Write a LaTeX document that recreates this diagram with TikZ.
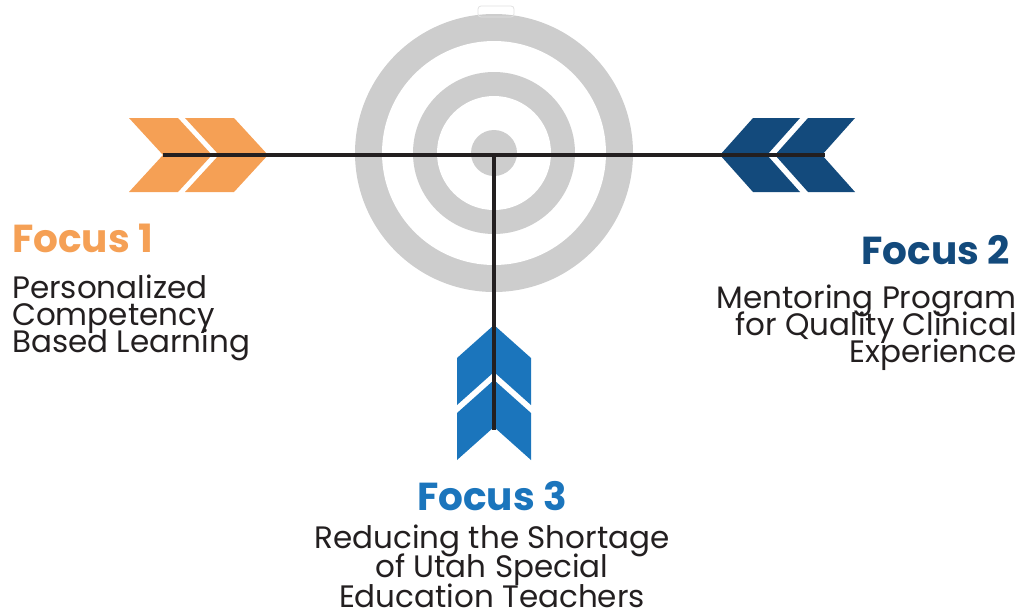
\documentclass[tikz,border=0pt]{standalone}
\usepackage{fontspec}
\setmainfont{Poppins}
\usetikzlibrary{positioning}

\definecolor{focusorange}{HTML}{F5A055}
\definecolor{focusnavy}{HTML}{134A7C}
\definecolor{focusblue}{HTML}{1B75BC}
\definecolor{targetgray}{HTML}{CDCDCD}
\definecolor{inkblack}{HTML}{231F20}

\newcommand{\tightlines}{\lineskiplimit=-100pt\relax}

\tikzset{
  shaft/.style={line width=4.5pt, inkblack},
  title/.style={font=\bfseries\fontsize{39}{39}\selectfont, inner sep=0pt},
  desc/.style={font=\fontsize{31}{27}\selectfont\tightlines, inner sep=0pt, text=inkblack}
}

\begin{document}
\begin{tikzpicture}[x=1pt, y=-1pt]
  \useasboundingbox (0,0) rectangle (1026,616);

  % Target
  \coordinate (bull) at (494,153);
  \fill[targetgray] (bull) circle [radius=139];
  \fill[white] (bull) circle [radius=112];
  \fill[targetgray] (bull) circle [radius=81];
  \fill[white] (bull) circle [radius=57];
  \fill[targetgray] (bull) circle [radius=23];
  \draw[targetgray!60, line width=0.8pt, rounded corners=3pt] (478,6) rectangle (514,17);

  % Left fletching (focus 1)
  \foreach \dx in {0,56}
    \fill[focusorange] (129+\dx,118) -- (178+\dx,118) -- (212+\dx,155)
      -- (178+\dx,192) -- (129+\dx,192) -- (163+\dx,155) -- cycle;

  % Right fletching (focus 2)
  \foreach \dx in {0,55}
    \fill[focusnavy] (720+\dx,155) -- (753+\dx,118) -- (800+\dx,118)
      -- (767+\dx,155) -- (800+\dx,192) -- (753+\dx,192) -- cycle;

  % Bottom fletching (focus 3)
  \foreach \dy in {0,55}
    \fill[focusblue] (494,325+\dy) -- (531,358+\dy) -- (531,405+\dy)
      -- (494,372+\dy) -- (457,405+\dy) -- (457,358+\dy) -- cycle;

  % Shafts
  \coordinate (tailA) at (163,155);
  \coordinate (tailB) at (825,155);
  \coordinate (hub) at (494,155);
  \coordinate (tailC) at (494,430);
  \draw[shaft] (tailA) -- (tailB);
  \draw[shaft] (hub) -- (tailC);

  % Labels (desc nodes sit on the baseline of their last line)
  \node[title, text=focusorange, anchor=base west] (focusA) at (12,252) {Focus 1};
  \node[desc, anchor=base west, align=left] (descA) at (12,352)
    {Personalized\\Competency\\Based Learning};

  \node[title, text=focusnavy, anchor=base east] (focusB) at (1010,264) {Focus 2};
  \node[desc, anchor=base east, align=right] (descB) at (1017,362)
    {Mentoring Program\\for Quality Clinical\\Experience\hspace{6pt}};

  \node[title, text=focusblue, anchor=base] (focusC) at (492,510) {Focus 3};
  \node[desc, anchor=base, align=center, font=\fontsize{31}{29.5}\selectfont\tightlines] (descC) at (492,607)
    {Reducing the Shortage\\of Utah Special\\Education Teachers};
\end{tikzpicture}
\end{document}
